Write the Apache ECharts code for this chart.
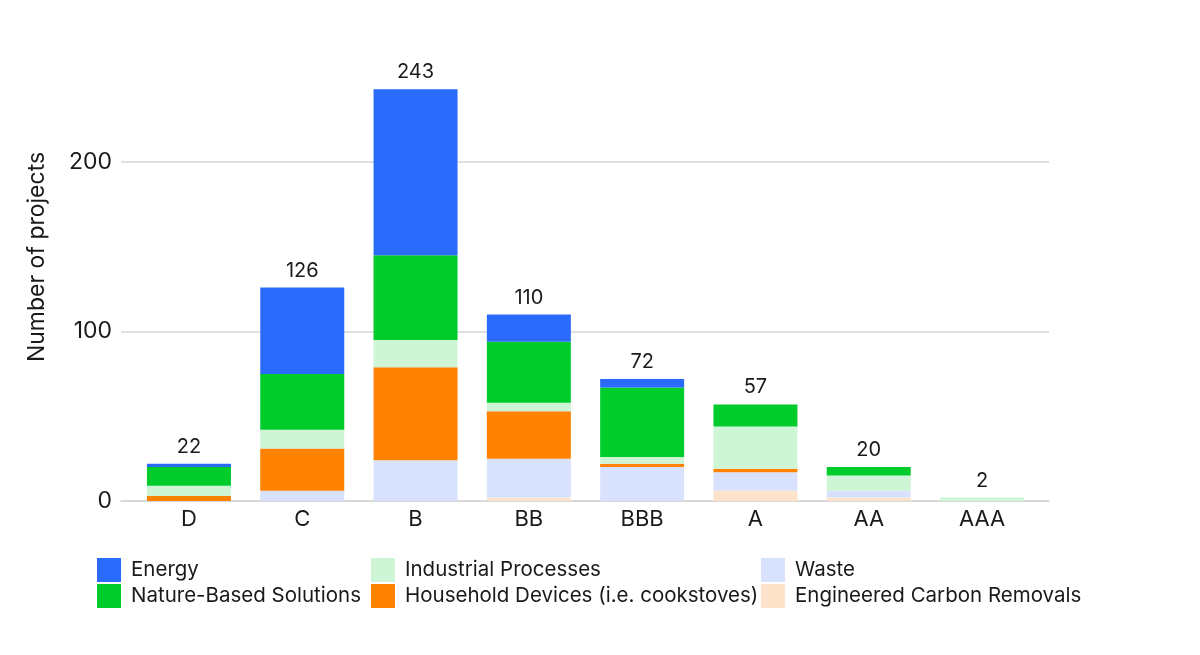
<!DOCTYPE html>
<html style="height: 100%">
<head>
<meta charset="utf-8">
<script src="https://cdn.jsdelivr.net/npm/echarts@6/dist/echarts.min.js"></script>
</head>
<body style="height: 100%; margin: 0; background: #fff">
<div id="container" style="width: 1200px; height: 655px"></div>
<script type="text/javascript">
// ratings, bottom-to-top stack order below
var categories = ['D', 'C', 'B', 'BB', 'BBB', 'A', 'AA', 'AAA'];
var engineered = [0, 0, 0, 2, 0, 6, 2, 0];
var waste      = [0, 6, 24, 23, 20, 11, 4, 0];
var household  = [3, 25, 55, 28, 2, 2, 0, 0];
var industrial = [6, 11, 16, 5, 4, 25, 9, 2];
var nature     = [11, 33, 50, 36, 41, 13, 5, 0];
var energy     = [2, 51, 98, 16, 5, 0, 0, 0];
var yTicks = [0, 100, 200];

var layers = [
    {name: 'Engineered Carbon Removals', data: engineered, color: '#FEE3CB'},
    {name: 'Waste', data: waste, color: '#D9E2FC'},
    {name: 'Household Devices (i.e. cookstoves)', data: household, color: '#FF8200'},
    {name: 'Industrial Processes', data: industrial, color: '#CEF5D6'},
    {name: 'Nature-Based Solutions', data: nature, color: '#00CC2C'},
    {name: 'Energy', data: energy, color: '#2B6BFB'}
];

var font = 'Inter, "Noto Sans", sans-serif';
var ink = '#1a1a1a';
var yMax = 288;
var dom = document.getElementById('container');
var myChart = echarts.init(dom);

// grid 0 = gridlines, axis line and y labels; grid 1 = bars (slightly narrower)
var series = layers.map(function (l) {
    return {
        name: l.name,
        type: 'bar',
        stack: 'total',
        xAxisIndex: 1,
        yAxisIndex: 1,
        barWidth: 84,
        itemStyle: {color: l.color},
        data: l.data
    };
});

var totals = categories.map(function (c, i) {
    var s = 0;
    layers.forEach(function (l) { s += l.data[i]; });
    return s;
});
series.push({
    name: 'total',
    type: 'scatter',
    xAxisIndex: 1,
    yAxisIndex: 1,
    symbolSize: 0,
    silent: true,
    itemStyle: {opacity: 1},
    label: {
        show: true,
        position: 'top',
        distance: 7,
        fontFamily: font,
        fontSize: 20,
        color: ink
    },
    data: totals
});

var legendStyle = {
    orient: 'vertical',
    top: 558,
    padding: 0,
    icon: 'rect',
    itemWidth: 24,
    itemHeight: 24,
    itemGap: 2,
    textStyle: {fontFamily: font, fontSize: 20.5, color: ink, padding: [2, 0, 0, 5]}
};

var option = {
    animation: false,
    grid: [
        {left: 121, right: 151, top: 13, bottom: 154},
        {left: 132.3, right: 161.3, top: 13, bottom: 154}
    ],
    legend: [
        Object.assign({left: 97, data: ['Energy', 'Nature-Based Solutions']}, legendStyle),
        Object.assign({left: 371, data: ['Industrial Processes', 'Household Devices (i.e. cookstoves)']}, legendStyle),
        Object.assign({left: 761, data: ['Waste', 'Engineered Carbon Removals']}, legendStyle)
    ],
    xAxis: [
        {
            type: 'value',
            gridIndex: 0,
            min: 0,
            max: 1,
            splitLine: {show: false},
            axisTick: {show: false},
            axisLabel: {show: false},
            axisLine: {show: true, lineStyle: {color: '#cccccc', width: 1.5}}
        },
        {
            type: 'category',
            gridIndex: 1,
            data: categories,
            axisLine: {show: false},
            axisTick: {show: false},
            axisLabel: {margin: 7, fontFamily: font, fontSize: 22, color: ink}
        }
    ],
    yAxis: [
        {
            type: 'value',
            gridIndex: 0,
            min: 0,
            max: yMax,
            interval: 100,
            name: 'Number of projects',
            nameLocation: 'middle',
            nameGap: 72,
            nameTextStyle: {fontFamily: font, fontSize: 23, color: ink},
            axisLine: {show: false},
            axisTick: {show: false},
            splitLine: {showMinLine: false, showMaxLine: false, lineStyle: {color: '#d6d6d6', width: 1.5}},
            axisLabel: {
                margin: 9,
                showMaxLabel: false,
                fontFamily: font,
                fontSize: 23,
                color: ink,
                formatter: function (v) { return yTicks.indexOf(v) >= 0 ? v : ''; }
            }
        },
        {
            type: 'value',
            gridIndex: 1,
            min: 0,
            max: yMax,
            show: false,
            splitLine: {show: false}
        }
    ],
    series: series
};

myChart.setOption(option, true);
</script>
</body>
</html>
